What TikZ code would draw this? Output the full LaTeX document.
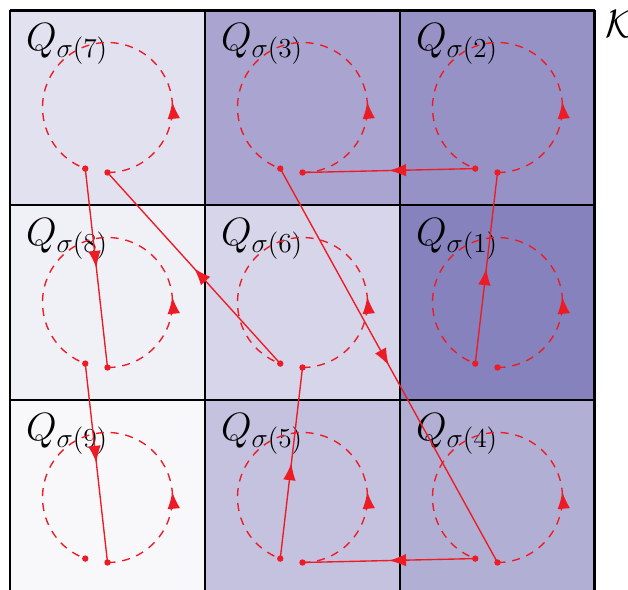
\documentclass[tikz,border=0pt]{standalone}
\usetikzlibrary{arrows.meta,decorations.markings}
\definecolor{cellbase}{RGB}{124,119,184}
\definecolor{pathred}{RGB}{237,28,36}
\tikzset{
  looparc/.style={pathred, line width=0.6pt, dash pattern=on 3.5pt off 3pt,
    postaction={decorate}, decoration={markings,
      mark=at position 0.28 with {\arrow{Latex[length=7.5pt,width=5.5pt]}}}},
  jumpline/.style={pathred, line width=0.6pt,
    postaction={decorate}, decoration={markings,
      mark=at position 0.5 with {\arrow{Latex[length=7.5pt,width=5.5pt]}}}},
  qlabel/.style={anchor=base west, inner sep=0pt, font=\LARGE}
}
\begin{document}
\begin{tikzpicture}
    \useasboundingbox (-0.154,0.092) rectangle (9.508,9.154);
    % cells: index / column / row / shade
    \foreach \k/\c/\r/\p in {1/2/1/92, 2/2/2/80, 3/1/2/66, 4/2/0/59, 5/1/0/45,
                             6/1/1/31, 7/0/2/22, 8/0/1/11, 9/0/0/5} {
        \fill [cellbase!\p] (3*\c,3*\r) rectangle +(3,3);
        \node [qlabel] (lab\k) at (3*\c+0.24,3*\r+2.38) {$Q_{\sigma(\k)}$};
        \coordinate (in\k) at (3*\c+1.5,3*\r+0.5);
        \coordinate (out\k) at ([shift={(-110:1)}]3*\c+1.5,3*\r+1.5);
    }
    \draw [line width=1.3pt] (0,0) grid [step=3] (9,9);
    \node [qlabel] (kname) at (9.15,8.57) {$\mathcal{K}$};
    % loops round each cell
    \foreach \k in {1,...,9} {
        \draw [looparc] (in\k) arc [start angle=-90, end angle=250, radius=1];
        \fill [pathred] (in\k) circle (1.4pt);
        \fill [pathred] (out\k) circle (1.4pt);
    }
    % jumps between cells
    \foreach \a [evaluate=\a as \b using int(\a+1)] in {1,...,8}
        \draw [jumpline] (out\a) -- (in\b);
\end{tikzpicture}
\end{document}
